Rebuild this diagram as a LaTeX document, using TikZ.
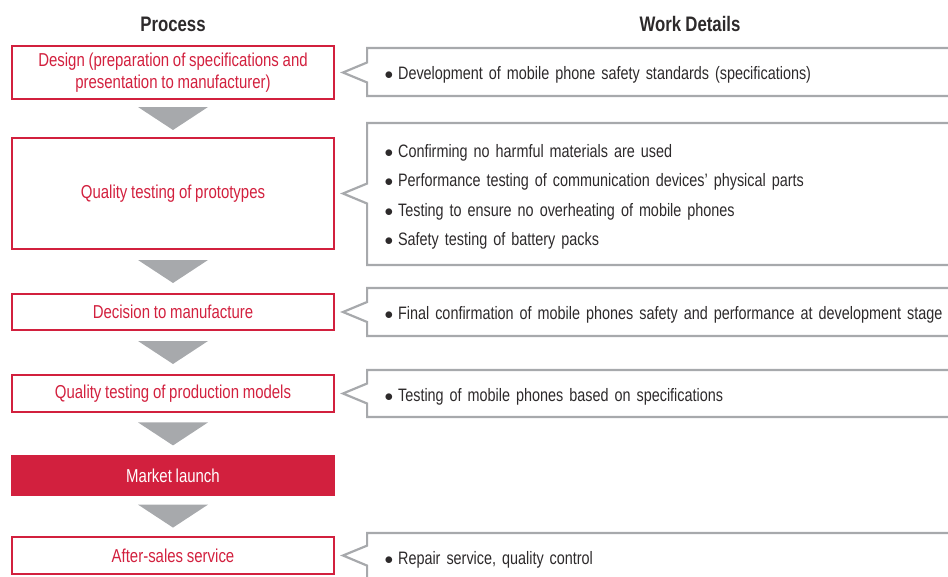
\documentclass[tikz,border=0pt]{standalone}
\usepackage{fontspec}
\setmainfont{Liberation Sans}[FakeStretch=0.80,WordSpace=0.9]
\usetikzlibrary{calc,shapes.callouts}
\definecolor{procred}{RGB}{210,32,62}
\definecolor{tipgray}{RGB}{167,169,172}
\definecolor{textdark}{RGB}{45,42,43}
\newcommand{\wdot}{\makebox[12pt][l]{\hspace{-1.5pt}$\bullet$}\rule{0pt}{19pt}}

\begin{document}
\begin{tikzpicture}[x=1pt,y=-1pt,
    procbox/.style={draw=procred,line width=2pt,minimum width=322pt,text=procred,
      align=center,font=\fontsize{18.7}{22}\selectfont},
    launchbox/.style={fill=procred,minimum width=324pt,text=white,
      font=\fontsize{18.7}{22}\selectfont},
    workbox/.style={rectangle callout,draw=tipgray,line width=2.2pt,anchor=west,
      text width=600pt,inner xsep=19pt,align=left,text=textdark,
      callout pointer width=20pt,font=\fontsize{18}{29.3}\selectfont},
    heading/.style={font=\fontsize{21}{24}\selectfont\bfseries,text=textdark}]
  \useasboundingbox (0,0) rectangle (948,576);
  \clip (0,0) rectangle (948,576);
  % column titles
  \node[heading] (proc) at (173,24) {Process};
  \node[heading] (work) at (690,24) {Work Details};
  % process steps
  \node[procbox,minimum height=53pt] (design) at (173,72.5)
    {Design (preparation of specifications and\\presentation to manufacturer)};
  \node[procbox,minimum height=111pt] (proto) at (173,193.5) {Quality testing of prototypes};
  \node[procbox,minimum height=36pt] (decide) at (173,312) {Decision to manufacture};
  \node[procbox,minimum height=37pt] (prodtest) at (173,393.5) {Quality testing of production models};
  \node[launchbox,minimum height=41pt] (launch) at (173,475.5) {Market launch};
  \node[procbox,minimum height=37pt] (after) at (173,555.5) {After-sales service};
  % gray arrows between steps
  \fill[tipgray] ($(design.south)!.5!(proto.north)$) ++(-35,-11.5) -- ++(70,0) -- ++(-35,23) -- cycle;
  \fill[tipgray] ($(proto.south)!.5!(decide.north)$) ++(-35,-11.5) -- ++(70,0) -- ++(-35,23) -- cycle;
  \fill[tipgray] ($(decide.south)!.5!(prodtest.north)$) ++(-35,-11.5) -- ++(70,0) -- ++(-35,23) -- cycle;
  \fill[tipgray] ($(prodtest.south)!.5!(launch.north)$) ++(-35,-11.5) -- ++(70,0) -- ++(-35,23) -- cycle;
  \fill[tipgray] ($(launch.south)!.5!(after.north)$) ++(-35,-11.5) -- ++(70,0) -- ++(-35,23) -- cycle;
  % work details
  \node[workbox,minimum height=48pt,callout absolute pointer={($(design.east)+(8,0)$)}] (specs) at (366,72)
    {\wdot Development of mobile phone safety standards (specifications)};
  \node[workbox,minimum height=142pt,callout absolute pointer={($(proto.east)+(8,0)$)}] (checks) at (366,194)
    {\wdot Confirming no harmful materials are used\\
     \wdot Performance testing of communication devices’ physical parts\\
     \wdot Testing to ensure no overheating of mobile phones\\
     \wdot Safety testing of battery packs};
  \node[workbox,minimum height=48pt,callout absolute pointer={($(decide.east)+(8,0)$)}] (confirm) at (366,312)
    {\wdot Final confirmation of mobile phones safety and performance at development stage};
  \node[workbox,minimum height=47pt,callout absolute pointer={($(prodtest.east)+(8,0)$)}] (phonetest) at (366,393.5)
    {\wdot Testing of mobile phones based on specifications};
  \node[workbox,minimum height=48pt,callout absolute pointer={($(after.east)+(8,0)$)}] (repair) at (366,557)
    {\wdot Repair service, quality control};
\end{tikzpicture}
\end{document}
